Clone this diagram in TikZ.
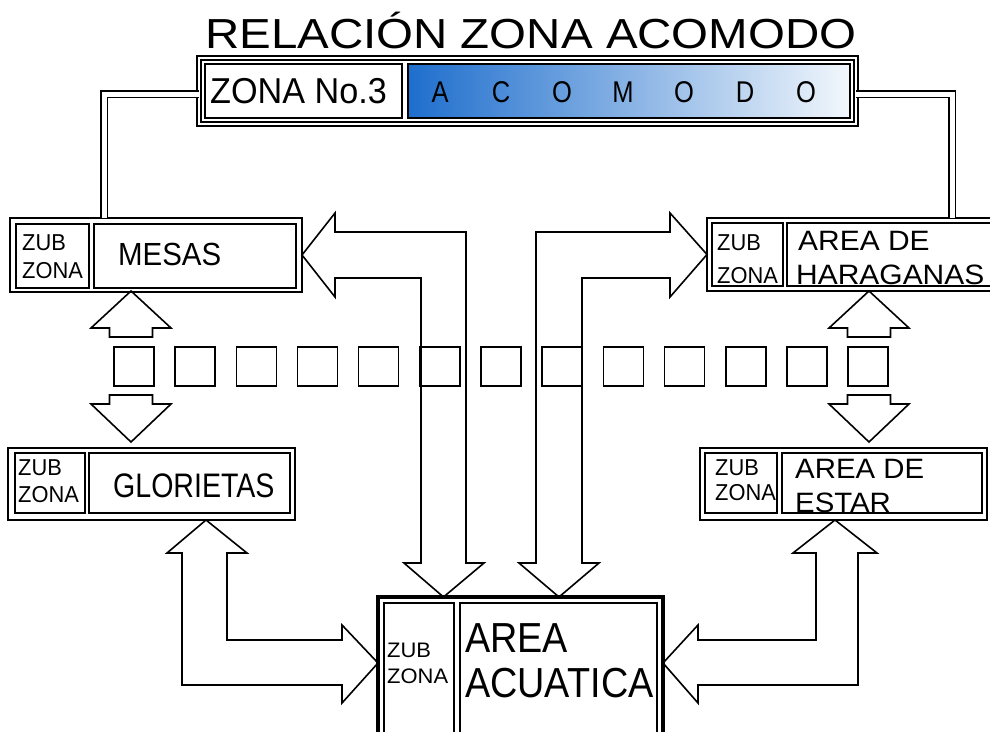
\documentclass[tikz,border=0pt]{standalone}
\usepackage{fontspec}
\setmainfont{Liberation Sans}
\usetikzlibrary{positioning}
\definecolor{azul}{RGB}{30,110,205}
\definecolor{azulclaro}{RGB}{242,247,252}

% ZUB / ZONA en dos renglones
\newcommand{\subzona}[5][]{%
  \node[zub,#1] (#2a) at (#3,#4) {ZUB};
  \node[zub,#1] (#2b) at (#3,#5) {ZONA};
}

\begin{document}
\begin{tikzpicture}[x=1pt, y=-1pt,
    marco/.style={draw, line width=2.5pt, inner sep=0pt, outer sep=0pt},
    celda/.style={draw, line width=1.6pt, inner sep=0pt, outer sep=0pt},
    txt/.style={inner sep=0pt, anchor=base west},
    zub/.style={txt, font=\fontsize{23}{23}\selectfont, xscale=0.95},
    etiq/.style={txt, font=\fontsize{28}{28}\selectfont, xscale=1.07},
    flecha/.style={draw, line width=1.6pt, line join=miter},
    dbl/.style={draw, double, line width=1.8pt, double distance=5pt},
    cuadro/.style={draw, line width=1.6pt, minimum width=40pt, minimum height=39pt, inner sep=0pt}]
    \useasboundingbox (0,0) rectangle (990,731);

    % Titulo
    \node[txt, font=\fontsize{42}{42}\selectfont, xscale=1.13] (titulo) at (205,48) {RELACIÓN ZONA ACOMODO};

    % Cabecera: ZONA No.3 | A C O M O D O
    \node[marco, double, line width=1.3pt, double distance=2.5pt, minimum width=657pt, minimum height=66pt] (cabecera) at (527.5,91) {};
    \node[celda, minimum width=197pt, minimum height=54pt] (zona) at (303.5,91) {};
    \node[txt, font=\fontsize{36}{36}\selectfont, xscale=0.95] (zonatxt) at (210,103) {ZONA No.3};
    \node[celda, minimum width=442pt, minimum height=54pt, left color=azul, right color=azulclaro] (acomodo) at (629,91) {};
    \foreach \l [count=\i from 0] in {A,C,O,M,O,D,O}
        \node[font=\fontsize{30}{30}\selectfont, xscale=0.85, inner sep=0pt, anchor=base] (letra\i) at (440+61*\i,102) {\l};

    % MESAS
    \node[marco, minimum width=292pt, minimum height=74pt] (mesas) at (156,255) {};
    \node[celda, minimum width=73pt, minimum height=64pt] (mesasz) at (52.5,256) {};
    \node[celda, minimum width=202pt, minimum height=64pt] (mesast) at (195,256) {};
    \subzona{mesasl}{22}{250}{278}
    \node[txt, font=\fontsize{32}{32}\selectfont, xscale=0.92] (mesastxt) at (118,265) {MESAS};

    % AREA DE HARAGANAS
    \node[marco, minimum width=290pt, minimum height=73pt] (harag) at (852,254.5) {};
    \node[celda, minimum width=71pt, minimum height=63pt] (haragz) at (747.5,254.5) {};
    \node[celda, minimum width=205pt, minimum height=63pt] (haragt) at (889.5,254.5) {};
    \subzona{haragl}{717}{250}{283}
    \node[etiq] (haragtxt1) at (798,250) {AREA DE};
    \node[etiq] (haragtxt2) at (796,284) {HARAGANAS};

    % GLORIETAS
    \node[marco, minimum width=287pt, minimum height=72pt] (glor) at (151.5,484) {};
    \node[celda, minimum width=70pt, minimum height=60pt] (glorz) at (50,483) {};
    \node[celda, minimum width=201pt, minimum height=60pt] (glort) at (189.5,483) {};
    \subzona{glorl}{18}{475}{502}
    \node[txt, font=\fontsize{34}{34}\selectfont, xscale=0.84] (glortxt) at (113,497) {GLORIETAS};

    % AREA DE ESTAR
    \node[marco, minimum width=287pt, minimum height=72pt] (estar) at (843.5,484) {};
    \node[celda, minimum width=72pt, minimum height=60pt] (estarz) at (741,483) {};
    \node[celda, minimum width=200pt, minimum height=60pt] (estart) at (882,483) {};
    \subzona{estarl}{715}{475}{500}
    \node[etiq, xscale=0.98] (estartxt1) at (795,478) {AREA DE};
    \node[etiq, xscale=0.98] (estartxt2) at (795,512) {ESTAR};

    % AREA ACUATICA
    \node[marco, line width=3.5pt, minimum width=285pt, minimum height=148pt] (acua) at (520.5,671) {};
    \node[celda, minimum width=70pt, minimum height=142pt] (acuaz) at (419,674) {};
    \node[celda, minimum width=197pt, minimum height=142pt] (acuat) at (558.5,674) {};
    \subzona[font=\fontsize{21}{21}\selectfont, xscale=1.1]{acual}{387}{657}{683}
    \node[txt, font=\fontsize{42}{42}\selectfont, xscale=0.9] (acuatxt1) at (465,652) {AREA};
    \node[txt, font=\fontsize{42}{42}\selectfont, xscale=0.9] (acuatxt2) at (465,697) {ACUATICA};

    % Lineas dobles desde la cabecera
    \draw[dbl] ([yshift=-3pt]cabecera.west) -| ([xshift=94pt]mesas.north west);
    \draw[dbl] ([yshift=-3pt]cabecera.east) -| ([xshift=245pt]harag.north west);

    % Fila de cuadros
    \foreach \i in {0,...,12}
        \node[cuadro] (c\i) at (134+61.17*\i,366.5) {};

    % Flechas cortas arriba / abajo
    \foreach \cx in {131,869} {
        \draw[flecha] (\cx,291) -- (\cx+40,328) -- (\cx+21.5,328) -- (\cx+21.5,337)
            -- (\cx-21.5,337) -- (\cx-21.5,328) -- (\cx-40,328) -- cycle;
        \draw[flecha] (\cx,442) -- (\cx+40,404) -- (\cx+21.5,404) -- (\cx+21.5,395)
            -- (\cx-21.5,395) -- (\cx-21.5,404) -- (\cx-40,404) -- cycle;
    }

    % Flecha MESAS - ACUATICA
    \draw[flecha] (mesas.east) -- (335,213) -- (335,232) -- (466,232) -- (466,563) -- (484,563)
        -- ([xshift=65.5pt]acua.north west) -- (404,563) -- (421,563) -- (421,278)
        -- (335,278) -- (335,297) -- cycle;
    % Flecha HARAGANAS - ACUATICA
    \draw[flecha] (harag.west) -- (670,213) -- (670,232) -- (536,232) -- (536,563) -- (519,563)
        -- ([xshift=181pt]acua.north west) -- (599,563) -- (582,563) -- (582,278)
        -- (670,278) -- (670,297) -- cycle;
    % Flecha GLORIETAS - ACUATICA
    \draw[flecha] ([xshift=198pt]glor.south west) -- (247,553) -- (227,553) -- (227,640)
        -- (342,640) -- (342,625) -- ([yshift=-66pt]acua.north west) -- (342,703)
        -- (342,685) -- (182,685) -- (182,553) -- (167,553) -- cycle;
    % Flecha ESTAR - ACUATICA
    \draw[flecha] ([xshift=135pt]estar.south west) -- (877,553) -- (858,553) -- (858,685)
        -- (698,685) -- (698,703) -- ([yshift=-66pt]acua.north east) -- (698,625)
        -- (698,640) -- (816,640) -- (816,553) -- (793,553) -- cycle;
\end{tikzpicture}
\end{document}
